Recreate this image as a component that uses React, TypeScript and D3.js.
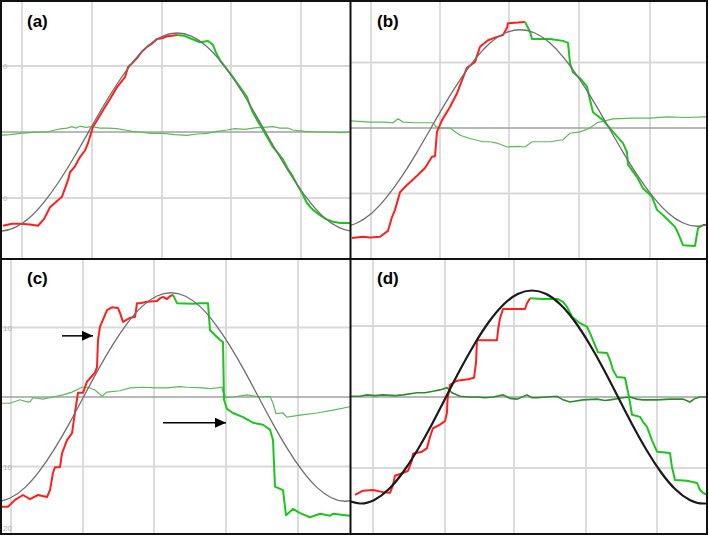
import React, { useEffect, useRef } from "react";
import * as d3 from "d3";

const WIDTH = 709;
const HEIGHT = 537;

// reference command: -15cos, one sample every 15 deg from -15 to 375 deg
const REF_WAVE = [-14.5, -15, -14.5, -13, -10.6, -7.5, -3.9, 0, 3.9, 7.5, 10.6, 13, 14.5, 15,
  14.5, 13, 10.6, 7.5, 3.9, 0, -3.9, -7.5, -10.6, -13, -14.5, -15, -14.5];

// (a)
const A_RED = [[3, -14.2], [12, -13.9], [20, -13.9], [30, -14.0], [38, -14.2], [44, -13.2], [50, -11.4], [56, -10.6],
  [62, -9.8], [68, -7.3], [70, -6.1], [75, -5.2], [80, -3.8], [85, -2.8], [88, -1.7], [93, 0.8], [98, 2.0], [103, 3.3],
  [110, 5.0], [117, 6.8], [125, 8.3], [128, 9.8], [132, 10.4], [137, 11.2], [142, 12.2], [147, 12.9], [152, 13.4],
  [157, 14.1], [162, 14.2], [167, 14.5], [172, 14.6], [177, 14.7]];
const A_GREEN = [[177, 14.7], [184, 14.6], [190, 14.2], [195, 13.9], [200, 13.6], [208, 13.8], [213, 13.2], [216, 12.0],
  [220, 10.9], [226, 9.7], [233, 8.3], [240, 6.8], [247, 5.3], [250, 4.0], [253, 2.9], [258, 1.6], [263, 0.3],
  [268, -1.0], [273, -2.3], [278, -3.2], [283, -4.2], [288, -5.6], [293, -6.8], [298, -8.2], [302, -9.2],
  [307, -10.8], [313, -11.8], [320, -12.6], [326, -13.2], [333, -13.6], [340, -13.8], [350, -13.8]];
const A_ERR = [[0, -0.5], [10, -0.4], [20, -0.2], [30, -0.1], [40, 0.0], [47, 0.0], [55, 0.3], [62, 0.5], [67, 0.6],
  [72, 0.8], [76, 0.6], [80, 0.9], [86, 0.7], [92, 0.8], [100, 0.6], [108, 0.6], [117, 0.5], [125, 0.3], [132, 0.1],
  [140, 0.0], [150, -0.2], [163, -0.2], [175, -0.4], [187, -0.5], [197, -0.3], [207, -0.2], [217, 0.1], [227, 0.3],
  [235, 0.5], [245, 0.4], [253, 0.6], [263, 0.7], [273, 0.8], [280, 0.6], [288, 0.6], [293, 0.3], [305, 0.1],
  [317, 0.0], [330, 0.0], [340, -0.1], [350, 0.0]];

// (b)
const B_RED = [[2, -16.8], [13, -16.6], [20, -16.7], [30, -16.6], [38, -15.7], [42, -13.6], [45, -12.5], [50, -9.8],
  [57, -8.7], [62, -8.0], [67, -7.3], [75, -6.1], [82, -4.4], [85, -4.3], [87, -0.6], [92, 1.2], [100, 3.2],
  [107, 5.3], [112, 7.3], [117, 9.2], [125, 10.1], [130, 12.4], [138, 13.4], [145, 13.8], [153, 14.2], [157, 15.3],
  [158, 16.0], [168, 16.1], [175, 16.2]];
const B_GREEN = [[175, 16.2], [180, 14.7], [182, 13.6], [200, 13.6], [213, 13.3], [218, 13.0], [220, 9.9], [223, 8.5],
  [230, 7.6], [237, 6.3], [240, 4.3], [243, 2.4], [253, 1.2], [263, -0.6], [273, -2.3], [277, -3.7], [278, -5.6],
  [287, -7.5], [293, -9.2], [302, -10.5], [307, -12.5], [315, -13.6], [325, -15.1], [328, -16.0], [333, -17.9],
  [345, -18.0], [348, -15.3], [353, -14.8]];
const B_RED_TAIL = [[353, -14.8], [358, -14.8]];
const B_ERR = [[0, 1.1], [20, 0.9], [35, 0.9], [43, 0.8], [48, 1.4], [53, 0.9], [65, 0.8], [83, 0.8], [86, 0.2],
  [90, 0.0], [100, 0.0], [110, -1.1], [120, -1.6], [133, -2.1], [140, -2.1], [147, -2.3], [157, -2.9], [168, -2.8],
  [175, -2.9], [182, -2.1], [200, -2.1], [213, -1.8], [220, -0.8], [230, -0.6], [240, 0.0], [247, 0.8], [255, 1.1],
  [263, 1.4], [283, 1.5], [300, 1.5], [317, 1.7], [335, 1.6], [357, 1.7]];

// (c)
const C_RED = [[2, -15.8], [8, -15.8], [15, -14.8], [23, -14.1], [30, -14.7], [38, -14.1], [47, -14.4], [50, -13.4],
  [53, -10.9], [55, -10.1], [60, -10.1], [62, -8.1], [67, -6.2], [72, -5.2], [75, -2.2], [78, 0.6], [83, 0.6],
  [87, 2.2], [90, 2.7], [95, 3.5], [97, 4.3], [98, 8.2], [100, 10.1], [107, 12.5], [112, 12.9], [118, 12.8],
  [120, 12.1], [123, 10.8], [130, 11.4], [135, 11.5], [137, 13.5], [140, 13.5], [147, 13.7], [157, 13.8],
  [160, 14.2], [163, 14.4], [167, 14.1], [170, 14.5], [173, 14.7]];
const C_GREEN = [[173, 14.7], [177, 13.5], [193, 13.4], [200, 13.5], [208, 13.5], [210, 9.6], [220, 8.2], [223, 7.9],
  [224, -0.4], [227, -1.7], [233, -2.3], [243, -2.9], [253, -3.7], [263, -4.0], [270, -4.7], [273, -6.2],
  [275, -12.9], [283, -13.4], [286, -17.0], [293, -16.1], [300, -16.7], [310, -17.3], [320, -16.8], [330, -17.1],
  [333, -16.8], [350, -17.1]];
const C_ERR = [[0, -0.9], [10, -0.9], [20, -0.4], [27, -0.7], [30, -0.7], [33, -0.1], [43, -0.3], [53, 0.0],
  [63, 0.3], [72, 0.7], [82, 1.4], [88, 1.4], [95, 1.0], [102, 0.1], [107, 0.7], [120, 0.9], [130, 1.3], [143, 1.4],
  [155, 1.3], [167, 1.3], [180, 1.5], [187, 1.4], [203, 1.3], [210, 1.2], [217, 1.3], [222, 1.4], [223, 0.7],
  [226, -0.1], [233, 0.0], [247, 0.3], [260, 0.0], [270, 0.1], [273, -0.9], [276, -2.4], [283, -2.3], [287, -2.9],
  [300, -2.6], [317, -2.3], [333, -1.9], [350, -1.4]];
// annotation arrows in (c): [tStart, tEnd, value]
const C_ARROWS = [[62, 93, 8.8], [163, 226, -3.7]];

// (d)
const D_RED = [[5, -13.8], [13, -13.2], [23, -13.1], [33, -13.4], [40, -13.5], [43, -12.4], [45, -11.1], [53, -10.7],
  [58, -10.4], [62, -8.9], [63, -8.0], [72, -7.7], [77, -7.2], [80, -5.6], [83, -4.4], [90, -3.9], [95, -3.4],
  [97, -2.2], [97.5, -0.4], [100, 1.7], [107, 2.3], [118, 2.5], [124, 2.7], [126, 4.8], [127, 8.0], [133, 8.0],
  [147, 8.0], [148, 9.4], [150, 11.1], [153, 12.4], [163, 12.4], [175, 12.4], [177, 13.2], [180, 13.9]];
const D_GREEN = [[180, 13.9], [193, 13.8], [208, 13.8], [213, 13.4], [217, 12.7], [222, 11.3], [230, 10.4],
  [237, 9.9], [240, 9.0], [245, 7.3], [248, 6.3], [257, 6.2], [260, 5.2], [263, 3.8], [267, 2.8], [275, 2.7],
  [278, 0.7], [280, -0.8], [282, -2.5], [290, -2.8], [293, -3.5], [297, -4.2], [302, -6.1], [307, -7.7],
  [320, -7.9], [322, -9.9], [325, -11.7], [337, -11.8], [347, -12.1], [350, -13.1], [353, -13.5], [358, -13.8]];
const D_ERR = [[0, 0.1], [10, 0.1], [17, 0.3], [25, 0.2], [33, 0.3], [45, 0.2], [53, 0.3], [67, 0.6], [75, 0.6],
  [83, 0.8], [90, 1.0], [97, 1.3], [102, 0.6], [110, 0.1], [118, 0.0], [127, 0.0], [135, -0.1], [143, 0.0],
  [153, 0.3], [160, -0.2], [167, -0.3], [177, 0.3], [182, -0.1], [187, -0.1], [197, 0.0], [207, 0.1], [213, -0.4],
  [220, -0.7], [233, -0.4], [247, -0.3], [255, -0.5], [260, -0.4], [273, -0.1], [280, 0.0], [287, -0.3],
  [293, -0.4], [307, -0.4], [320, -0.3], [333, -0.3], [340, -0.7], [345, -0.2], [350, 0.0], [358, 0.0]];

// faint left-edge tick labels (only the visible part of each)
const A_TICKS = [[10, "0"], [-10, "0"]];
const C_TICKS = [[10, "10"], [-10, "10"], [-20, "20"]];

const PANELS = [
  { label: "(a)", ox: 0, oy: 0, span: 350, box: [2, 2, 350, 258], grid10: [66, 198], ref: [0, 354],
    gridT: [22, 92, 162, 231, 301], red: A_RED, green: A_GREEN, tail: [], err: A_ERR, errColor: "#5cb85c",
    refColor: "#6e6e6e", refWidth: 1.3, ticks: A_TICKS },
  { label: "(b)", ox: 350, oy: 0, span: 357, box: [351, 2, 706, 258], grid10: [62.5, 193.5], ref: [-8, 356],
    gridT: [21, 90, 159, 229, 300], red: B_RED, green: B_GREEN, tail: B_RED_TAIL, err: B_ERR, errColor: "#5cb85c",
    refColor: "#6e6e6e", refWidth: 1.3, ticks: [] },
  { label: "(c)", ox: 0, oy: 260, span: 350, box: [2, 260, 350, 533], grid10: [67.5, 206.5], ref: [-4, 350],
    gridT: [11, 83, 154, 226, 298], red: C_RED, green: C_GREEN, tail: [], err: C_ERR, errColor: "#5cb85c",
    refColor: "#6e6e6e", refWidth: 1.3, ticks: C_TICKS },
  { label: "(d)", ox: 350, oy: 260, span: 357, box: [351, 260, 706, 533], grid10: [66, 208], ref: [10, 344],
    gridT: [23, 95, 164, 236, 307], red: D_RED, green: D_GREEN, tail: [], err: D_ERR, errColor: "#2f8a2f",
    refColor: "#1a1a1a", refWidth: 2.2, ticks: [] },
];

export default function App() {
  const ref = useRef<SVGSVGElement>(null);

  useEffect(() => {
    const svg = d3.select(ref.current);
    svg.selectAll("*").remove();
    svg.append("rect").attr("width", WIDTH).attr("height", HEIGHT).attr("fill", "#fff");

    const defs = svg.append("defs");
    defs.append("marker")
      .attr("id", "arrowhead")
      .attr("markerUnits", "userSpaceOnUse")
      .attr("markerWidth", 12).attr("markerHeight", 10)
      .attr("refX", 11).attr("refY", 5)
      .attr("orient", "auto")
      .append("path")
      .attr("d", "M0,0 L11,5 L0,10 z")
      .attr("fill", "#000");

    PANELS.forEach((p, i) => {
      const [bx0, by0, bx1, by1] = p.box;
      defs.append("clipPath").attr("id", "clip" + i)
        .append("rect").attr("x", bx0).attr("y", by0).attr("width", bx1 - bx0).attr("height", by1 - by0);

      const x = d3.scaleLinear().domain([0, p.span]).range([p.ox, p.ox + p.span]);
      const y = d3.scaleLinear().domain([-10, 10]).range([p.oy + p.grid10[1], p.oy + p.grid10[0]]);

      const g = svg.append("g").attr("clip-path", `url(#clip${i})`);

      // grid
      g.selectAll(".vgrid").data(p.gridT).enter().append("line")
        .attr("x1", d => x(d)).attr("x2", d => x(d))
        .attr("y1", by0).attr("y2", by1)
        .attr("stroke", "#d9d9d9").attr("stroke-width", 1.8);
      g.selectAll(".hgrid").data([10, -10]).enter().append("line")
        .attr("x1", bx0).attr("x2", bx1)
        .attr("y1", d => y(d)).attr("y2", d => y(d))
        .attr("stroke", "#d9d9d9").attr("stroke-width", 1.8);
      g.append("line")
        .attr("x1", bx0).attr("x2", bx1)
        .attr("y1", y(0)).attr("y2", y(0))
        .attr("stroke", "#a0a0a0").attr("stroke-width", 1.6);

      // faint tick labels at the left edge
      svg.selectAll(".tick" + i).data(p.ticks).enter().append("text")
        .attr("x", bx0 + 1)
        .attr("y", d => Math.min(y(d[0] as number) + 3, by1 - 2))
        .attr("font-family", "Liberation Sans, Arial, sans-serif")
        .attr("font-size", 8)
        .attr("fill", "#b0b0b0")
        .text(d => d[1] as string);

      const line = d3.line<number[]>().x(d => x(d[0])).y(d => y(d[1]));

      g.append("path").datum(p.err).attr("d", line)
        .attr("fill", "none").attr("stroke", p.errColor).attr("stroke-width", i === 3 ? 1.6 : 1.2);

      g.append("path").datum(p.red).attr("d", line)
        .attr("fill", "none").attr("stroke", "#ff1f1f").attr("stroke-width", 2)
        .attr("stroke-linejoin", "round");
      g.append("path").datum(p.green).attr("d", line)
        .attr("fill", "none").attr("stroke", "#1ec41e").attr("stroke-width", 2)
        .attr("stroke-linejoin", "round");
      if (p.tail.length) {
        g.append("path").datum(p.tail).attr("d", line)
          .attr("fill", "none").attr("stroke", "#ff1f1f").attr("stroke-width", 2);
      }

      // reference sine
      const [start, period] = p.ref;
      const refLine = d3.line<number>()
        .x((_, k) => x(start + (k - 1) * period / 24))
        .y(d => y(d))
        .curve(d3.curveNatural);
      g.append("path").datum(REF_WAVE).attr("d", refLine)
        .attr("fill", "none").attr("stroke", p.refColor).attr("stroke-width", p.refWidth);

      if (i === 2) {
        g.selectAll(".arrow").data(C_ARROWS).enter().append("line")
          .attr("x1", d => x(d[0])).attr("x2", d => x(d[1]))
          .attr("y1", d => y(d[2])).attr("y2", d => y(d[2]))
          .attr("stroke", "#000").attr("stroke-width", 1.5)
          .attr("marker-end", "url(#arrowhead)");
      }

      svg.append("text")
        .attr("x", p.ox + 27)
        .attr("y", p.oy + (i < 2 ? 27 : 24))
        .attr("font-family", "Liberation Sans, Arial, sans-serif")
        .attr("font-weight", "bold")
        .attr("font-size", 17)
        .attr("fill", "#000")
        .text(p.label);
    });

    // frame and dividers
    svg.append("rect")
      .attr("x", 1).attr("y", 1).attr("width", 706).attr("height", 533)
      .attr("fill", "none").attr("stroke", "#111").attr("stroke-width", 2);
    svg.append("line").attr("x1", 350.5).attr("x2", 350.5).attr("y1", 1).attr("y2", 534)
      .attr("stroke", "#111").attr("stroke-width", 2);
    svg.append("line").attr("x1", 1).attr("x2", 707).attr("y1", 259).attr("y2", 259)
      .attr("stroke", "#111").attr("stroke-width", 2);
  }, []);

  return (
    <svg ref={ref} width={WIDTH} height={HEIGHT}
      style={{ position: "absolute", left: 0, top: 0, display: "block" }} />
  );
}
